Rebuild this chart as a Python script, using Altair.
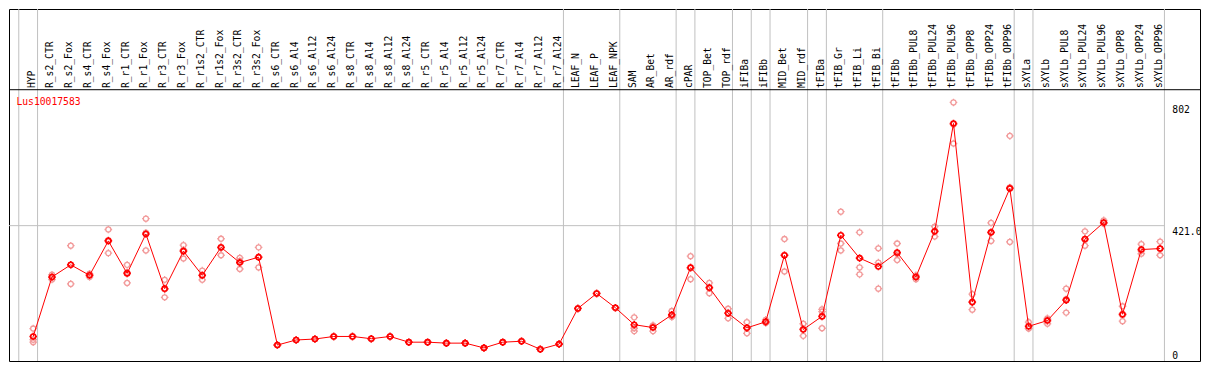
import altair as alt
import pandas as pd

# ---------------- data ----------------
gene = "Lus10017583"

categories = [
    "HYP", "R_s2_CTR", "R_s2_Fox", "R_s4_CTR", "R_s4_Fox", "R_r1_CTR", "R_r1_Fox",
    "R_r3_CTR", "R_r3_Fox", "R_r1s2_CTR", "R_r1s2_Fox", "R_r3s2_CTR", "R_r3s2_Fox",
    "R_s6_CTR", "R_s6_Al4", "R_s6_Al12", "R_s6_Al24", "R_s8_CTR", "R_s8_Al4",
    "R_s8_Al12", "R_s8_Al24", "R_r5_CTR", "R_r5_Al4", "R_r5_Al12", "R_r5_Al24",
    "R_r7_CTR", "R_r7_Al4", "R_r7_Al12", "R_r7_Al24", "LEAF_N", "LEAF_P", "LEAF_NPK",
    "SAM", "AR_Bet", "AR_rdf", "cPAR", "TOP_Bet", "TOP_rdf", "iFIBa", "iFIBb",
    "MID_Bet", "MID_rdf", "tFIBa", "tFIB_Gr", "tFIB_Li", "tFIB_Bi", "tFIBb",
    "tFIBb_PUL8", "tFIBb_PUL24", "tFIBb_PUL96", "tFIBb_OPP8", "tFIBb_OPP24",
    "tFIBb_OPP96", "sXYLa", "sXYLb", "sXYLb_PUL8", "sXYLb_PUL24", "sXYLb_PUL96",
    "sXYLb_OPP8", "sXYLb_OPP24", "sXYLb_OPP96",
]

# number of consecutive categories in each separated group
group_sizes = [1, 28, 3, 3, 1, 2, 1, 1, 2, 1, 3, 7, 1, 7]

means = [
    45.3, 247.1, 288.2, 252.6, 369.2, 259.1, 392.8, 207.3, 334.5, 252.6, 347.5, 295.7, 314.1,
    16.2, 33.4, 36.6, 45.3, 45.3, 37.6, 45.3, 25.9, 25.9, 22.7, 22.7, 6.5, 25.9, 29.1, 2.0, 19.4,
    140.2, 191.1, 142.5,
    85.2, 75.5, 118.5, 278.5, 210.5, 124.0, 74.5, 94.9, 320.6, 69.0, 113.3, 388.6, 310.9, 282.7,
    329.7, 247.1, 401.6, 767.5, 161.9, 398.3, 547.3,
    79.7, 99.1, 168.4, 375.6, 431.7, 120.8, 340.0, 343.3,
]

rep_a = [
    72.2, 254.5, 353.0, 257.8, 408.0, 288.2, 444.6, 237.4, 354.9, 268.8, 376.6, 311.9, 347.5,
    16.2, 33.4, 36.6, 45.3, 45.3, 37.6, 45.3, 25.9, 25.9, 22.7, 22.7, 6.5, 25.9, 29.1, 2.0, 19.4,
    140.2, 191.1, 142.5,
    110.1, 82.9, 131.5, 317.4, 226.7, 139.2, 93.9, 101.4, 375.6, 88.4, 137.0, 468.3, 398.3, 344.2,
    360.4, 252.6, 417.7, 838.7, 188.8, 430.6, 725.4,
    93.9, 106.9, 207.3, 401.6, 439.1, 147.7, 358.2, 366.9,
]
rep_b = [
    34.3, 244.8, 223.4, 252.6, 328.0, 226.7, 336.8, 178.1, 309.6, 237.4, 320.6, 274.0, 279.5,
    16.2, 33.4, 36.6, 45.3, 45.3, 37.6, 45.3, 25.9, 25.9, 22.7, 22.7, 6.5, 25.9, 29.1, 2.0, 19.4,
    140.2, 191.1, 142.5,
    73.2, 63.5, 112.0, 239.6, 192.0, 106.9, 56.0, 91.6, 265.5, 47.3, 73.2, 360.4, 279.5, 295.7,
    304.4, 239.6, 384.1, 699.5, 136.0, 369.2, 365.9,
    72.2, 88.4, 126.3, 353.0, 428.4, 97.2, 325.8, 320.6,
]
rep_c = [
    25.9, 238.3, 288.2, 247.1, 371.4, 262.3, 397.0, 206.0, 338.7, 251.3, 345.2, 301.2, 315.1,
    16.2, 33.4, 36.6, 45.3, 45.3, 37.6, 45.3, 25.9, 25.9, 22.7, 22.7, 6.5, 25.9, 29.1, 2.0, 19.4,
    140.2, 191.1, 142.5,
    63.5, 79.7, 112.0, 278.5, 212.4, 126.3, 73.2, 91.6, 320.6, 71.2, 129.5, 336.8, 255.8, 207.3,
    325.8, 247.1, 402.5, 764.2, 160.6, 397.0, 550.5,
    73.2, 102.3, 171.6, 372.4, 428.4, 117.6, 335.5, 342.0,
]

tick_values = [0, 421, 802]
tick_labels = ["0", "421.0", "802"]

# ---------------- layout ----------------
W, H = 1191, 352
REF_L, REF_T, REF_R, REF_B = 1.5, 0.5, 1207.0, 369.0
sx = W / (REF_R - REF_L)
sy = H / (REF_B - REF_T)


def rx(x):
    return (x - REF_L) * sx


def ry(y):
    return (y - REF_T) * sy


px0 = rx(26.0)
step = 19.01 * sx
x_dom = [-px0 / step, (W - px0) / step]
y_zero = ry(357.3)
kpx = (ry(357.3) - ry(227.3)) / 421.0
y_dom = [-(H - y_zero) / kpx, y_zero / kpx]

FONT = "DejaVu Sans Mono"
FS = 9.7
GRID = "#c0c0c0"
RED = "#ff0000"
PALE = "#f29a9a"
MARK = ("M0.66,0A0.66,0.66,0,1,1,-0.66,0A0.66,0.66,0,1,1,0.66,0Z"
        "M0,-1L0,-0.66M0,0.66L0,1M-1,0L-0.66,0M0.66,0L1,0")

# ---------------- tables ----------------
n = len(categories)
pts = pd.DataFrame({"idx": list(range(n)), "category": categories, "mean": means})
reps = pd.DataFrame({
    "idx": list(range(n)) * 3,
    "value": rep_a + rep_b + rep_c,
})
bounds = [-1]
acc = 0
for g in group_sizes:
    acc += g
    bounds.append(acc - 1)
seps = pd.DataFrame({"idx": bounds})
ticks = pd.DataFrame({"value": tick_values, "label": tick_labels})
title_df = pd.DataFrame({"gene": [gene]})

xs = alt.Scale(domain=x_dom, nice=False, zero=False)
ys = alt.Scale(domain=y_dom, nice=False, zero=False)


def X(field="idx"):
    return alt.X(f"{field}:Q", scale=xs, axis=None)


def Y(field):
    return alt.Y(f"{field}:Q", scale=ys, axis=None)


sep_off = 4.4 * sx
last_sep_px = rx(26.0 + 19.01 * (n - 1) + 4.4)

sep_layer = alt.Chart(seps).mark_rule(color=GRID, strokeWidth=1, xOffset=sep_off).encode(
    x=X(), y=alt.value(0), y2=alt.value(H)
)
hgrid = alt.Chart(ticks).transform_filter(alt.datum.value == tick_values[1]).mark_rule(
    color=GRID, strokeWidth=1
).encode(y=Y("value"), x=alt.value(0), x2=alt.value(last_sep_px))
header_line = alt.Chart(title_df).mark_rule(color="black", strokeWidth=1).encode(
    y=alt.value(ry(85.0)), x=alt.value(0), x2=alt.value(W)
)
rep_layer = alt.Chart(reps).mark_point(
    shape=MARK, filled=False, size=58, strokeWidth=1.3, color=PALE, opacity=1
).encode(x=X(), y=Y("value"))
line_layer = alt.Chart(pts).mark_line(color=RED, strokeWidth=1).encode(x=X(), y=Y("mean"))
mean_layer = alt.Chart(pts).mark_point(
    shape=MARK, filled=False, size=58, strokeWidth=1.6, color=RED, opacity=1
).encode(x=X(), y=Y("mean"))
head_text = alt.Chart(pts).mark_text(
    angle=270, align="left", baseline="middle", font=FONT, fontSize=FS, color="black", dy=-1.5
).encode(x=X(), y=alt.value(ry(83.3)), text="category:N")
tick_text = alt.Chart(ticks).transform_filter(alt.datum.value < max(tick_values)).mark_text(
    align="left", baseline="top", font=FONT, fontSize=FS, color="black", dy=1
).encode(x=alt.value(rx(1179.0)), y=Y("value"), text="label:N")
tick_top = alt.Chart(ticks).transform_filter(alt.datum.value == max(tick_values)).mark_text(
    align="left", baseline="middle", font=FONT, fontSize=FS, color="black", dy=-3
).encode(x=alt.value(rx(1179.0)), y=Y("value"), text="label:N")
title_text = alt.Chart(title_df).mark_text(
    align="left", baseline="top", font=FONT, fontSize=FS, color=RED
).encode(x=alt.value(rx(9.0)), y=alt.value(ry(93.0)), text="gene:N")

chart = alt.layer(
    sep_layer, hgrid, header_line, rep_layer, line_layer, mean_layer,
    head_text, tick_text, tick_top, title_text,
).properties(
    width=W, height=H, padding=1, autosize=alt.AutoSizeParams(type="none"),
    background="white",
).configure_view(stroke="black", strokeWidth=1)

chart.save("out.html", embed_options={"renderer": "svg", "actions": False})
